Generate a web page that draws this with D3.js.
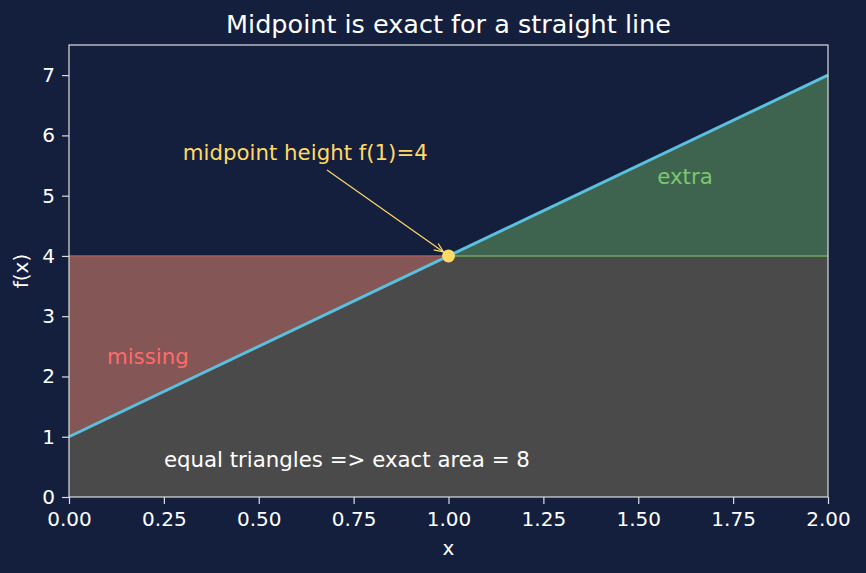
<!DOCTYPE html>
<html>
<head>
<meta charset="utf-8">
<script src="https://cdn.jsdelivr.net/npm/d3@7"></script>
<style>
  body { margin: 0; background: #141f3e; }
  svg text { font-family: "DejaVu Sans", sans-serif; }
</style>
</head>
<body>
<svg id="chart" width="866" height="573"></svg>
<script>
// data -------------------------------
var lineX = [0, 2]
var lineY = [1, 7]
var midX = 1
var midY = 4
var xTicks = [0, 0.25, 0.5, 0.75, 1, 1.25, 1.5, 1.75, 2]
var yTicks = [0, 1, 2, 3, 4, 5, 6, 7]

var svg = d3.select("#chart"),
	margin = {top: 45, left: 69, bottom: 76, right: 38},
	width = +svg.attr("width"),
	height = +svg.attr("height");

var x = d3.scaleLinear()
	.domain([0, 2])
	.range([margin.left, width - margin.right])

var y = d3.scaleLinear()
	.domain([0, 7.5])
	.range([height - margin.bottom, margin.top])

var f = v => lineY[0] + (lineY[1] - lineY[0]) * (v - lineX[0]) / (lineX[1] - lineX[0])

var line = d3.line().x(d => x(d[0])).y(d => y(d[1]))

// base rectangle (midpoint estimate)
svg.append("path")
	.attr("d", line([[0, 0], [2, 0], [2, midY], [0, midY]]) + "Z")
	.attr("fill", "#4a4a4a")

// missing triangle
svg.append("path")
	.attr("d", line([[0, f(0)], [midX, midY], [0, midY]]) + "Z")
	.attr("fill", "#845656")

// extra triangle
svg.append("path")
	.attr("d", line([[midX, midY], [2, f(2)], [2, midY]]) + "Z")
	.attr("fill", "#3e6450")

// top of rectangle
svg.append("line")
	.attr("x1", x(0)).attr("x2", x(midX))
	.attr("y1", y(midY)).attr("y2", y(midY))
	.attr("stroke", "#a45f5f").attr("stroke-width", 1.5)
svg.append("line")
	.attr("x1", x(midX)).attr("x2", x(2))
	.attr("y1", y(midY)).attr("y2", y(midY))
	.attr("stroke", "#6aa85e").attr("stroke-width", 1.5)

// the straight line
svg.append("path")
	.attr("d", line(lineX.map((d, i) => [d, lineY[i]])))
	.attr("stroke", "#5bc0de")
	.attr("stroke-width", 3)
	.attr("fill", "none")

// midpoint
svg.append("circle")
	.attr("cx", x(midX)).attr("cy", y(midY))
	.attr("r", 6.5)
	.attr("fill", "#ffd966")

// axes
var xAxis = svg.append("g")
	.attr("transform", `translate(0,${y(0)})`)
	.call(d3.axisBottom(x).tickValues(xTicks).tickFormat(d3.format(".2f")).tickSize(7).tickPadding(8))

var yAxis = svg.append("g")
	.attr("transform", `translate(${x(0)},0)`)
	.call(d3.axisLeft(y).tickValues(yTicks).tickFormat(d3.format("d")).tickSize(7).tickPadding(7))

svg.selectAll(".domain").remove()
svg.selectAll(".tick line").attr("stroke", "#dddddd").attr("stroke-width", 1.2)
svg.selectAll(".tick text").attr("fill", "#ffffff").style("font-size", "20px")

// frame
svg.append("rect")
	.attr("x", x(0)).attr("y", y(7.5))
	.attr("width", x(2) - x(0)).attr("height", y(0) - y(7.5))
	.attr("fill", "none")
	.attr("stroke", "#dddddd")
	.attr("stroke-width", 1.2)

// titles
svg.append("text")
	.attr("x", (x(0) + x(2)) / 2).attr("y", 33)
	.attr("text-anchor", "middle")
	.attr("fill", "#ffffff")
	.style("font-size", "25.5px")
	.text("Midpoint is exact for a straight line")

svg.append("text")
	.attr("x", (x(0) + x(2)) / 2).attr("y", 555)
	.attr("text-anchor", "middle")
	.attr("fill", "#ffffff")
	.style("font-size", "20px")
	.text("x")

svg.append("text")
	.attr("transform", `translate(28,${(y(0) + y(7.5)) / 2}) rotate(-90)`)
	.attr("text-anchor", "middle")
	.attr("fill", "#ffffff")
	.style("font-size", "20px")
	.text("f(x)")

// annotations
svg.append("text")
	.attr("x", x(0.1)).attr("y", y(2.2))
	.attr("fill", "#ff6b6b")
	.style("font-size", "21.3px")
	.text("missing")

svg.append("text")
	.attr("x", x(1.55)).attr("y", y(5.2))
	.attr("fill", "#7bc86c")
	.style("font-size", "21.3px")
	.text("extra")

svg.append("text")
	.attr("x", x(0.25)).attr("y", y(0.5))
	.attr("fill", "#ffffff")
	.style("font-size", "21.3px")
	.text("equal triangles => exact area = 8")

svg.append("text")
	.attr("x", x(0.3)).attr("y", y(5.6))
	.attr("fill", "#ffd966")
	.style("font-size", "21.3px")
	.text("midpoint height f(1)=4")

// arrow
var ax0 = 327, ay0 = 170
var ax1 = x(midX) - 5, ay1 = y(midY) - 4
var ang = Math.atan2(ay1 - ay0, ax1 - ax0)
svg.append("line")
	.attr("x1", ax0).attr("y1", ay0)
	.attr("x2", ax1).attr("y2", ay1)
	.attr("stroke", "#ffd966").attr("stroke-width", 1.2)
var head = [ang + Math.PI - 0.4, ang + Math.PI + 0.4].map(a => [ax1 + 10 * Math.cos(a), ay1 + 10 * Math.sin(a)])
svg.append("path")
	.attr("d", `M${head[0]}L${ax1},${ay1}L${head[1]}`)
	.attr("stroke", "#ffd966").attr("stroke-width", 1.2)
	.attr("fill", "none")
</script>
</body>
</html>
